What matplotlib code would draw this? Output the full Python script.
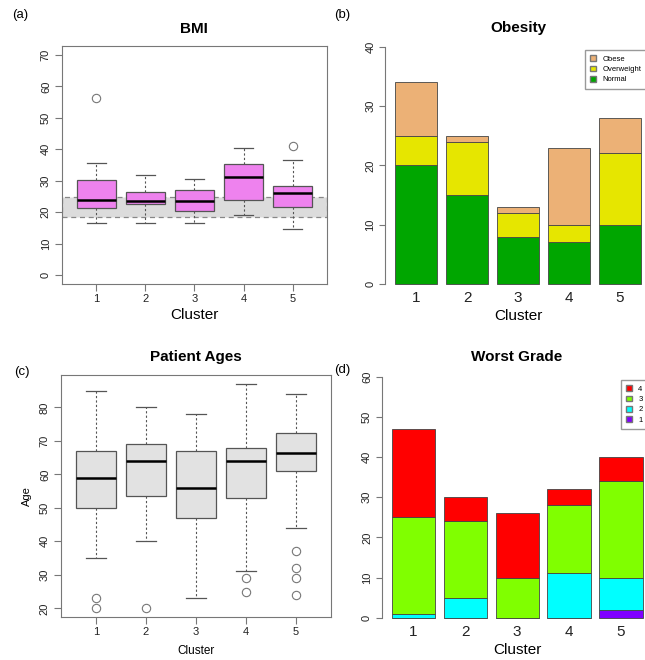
import numpy as np
import matplotlib
matplotlib.use("Agg")
import matplotlib.pyplot as plt
from matplotlib.patches import Patch

plt.rcParams['font.family'] = ['Liberation Sans', 'DejaVu Sans']

# Data
clusters = ['1', '2', '3', '4', '5']

# BMI boxplot stats
bmi_whislo = [16.6, 16.5, 16.4, 19.1, 14.6]
bmi_q1 = [21.2, 22.5, 20.3, 23.8, 21.6]
bmi_med = [23.8, 23.7, 23.5, 31.3, 26.2]
bmi_q3 = [30.2, 26.5, 27.0, 35.4, 28.3]
bmi_whishi = [35.7, 31.8, 30.5, 40.3, 36.6]
bmi_out = [[56.3], [], [], [], [41.0]]
normal_bmi = [18.5, 24.9]

# Age boxplot stats
age_whislo = [35, 40, 23, 31, 44]
age_q1 = [50, 53.5, 47, 53, 61]
age_med = [59, 64, 56, 64, 66.5]
age_q3 = [67, 69, 67, 68, 72.5]
age_whishi = [85, 80, 78, 87, 84]
age_out = [[23, 20], [20], [], [29, 25], [37, 32, 29, 24]]

# Obesity counts
normal = [20, 15, 8, 7, 10]
overweight = [5, 9, 4, 3, 12]
obese = [9, 1, 1, 13, 6]

# Worst grade counts
grade1 = [0, 0, 0, 0, 2]
grade2 = [1, 5, 0, 11, 8]
grade3 = [24, 19, 10, 17, 24]
grade4 = [22, 6, 16, 4, 6]

W, H = 645, 660
fig = plt.figure(figsize=(W / 100, H / 100), dpi=100)

AXCOL = '#777777'
EDGE = '#555555'


# Helper: axes from pixel box
def ax_px(left, top, right, bottom):
    return fig.add_axes([left / W, 1 - bottom / H, (right - left) / W, (bottom - top) / H])


def ftext(x, y, s, **kw):
    fig.text(x / W, 1 - y / H, s, ha='center', va='center', **kw)


def make_stats(lo, q1, med, q3, hi, out):
    stats = []
    for i in range(len(med)):
        stats.append({'whislo': lo[i], 'q1': q1[i], 'med': med[i], 'q3': q3[i],
                      'whishi': hi[i], 'fliers': out[i], 'label': clusters[i]})
    return stats


def style_box_axes(ax, fs):
    for sp in ax.spines.values():
        sp.set_color(AXCOL)
        sp.set_linewidth(0.8)
    ax.tick_params(colors=AXCOL, labelcolor='#222222', length=5, width=0.8,
                   labelsize=fs)
    ax.tick_params(axis='y', labelrotation=90, pad=3)
    ax.tick_params(axis='x', pad=2)
    for lab in ax.get_yticklabels():
        lab.set_va('center')


def draw_box(ax, stats, face):
    ax.bxp(stats, positions=range(1, 6), widths=0.8, capwidths=0.4, patch_artist=True,
           boxprops=dict(facecolor=face, edgecolor=EDGE, linewidth=0.9),
           medianprops=dict(color='black', linewidth=1.8),
           whiskerprops=dict(color=EDGE, linewidth=0.8, linestyle=(0, (2, 2))),
           capprops=dict(color=EDGE, linewidth=0.9),
           flierprops=dict(marker='o', markersize=6, markerfacecolor='none',
                           markeredgecolor='#777777', markeredgewidth=0.8),
           zorder=3)


def style_bar_axes(ax, top):
    for k in ['top', 'right', 'bottom']:
        ax.spines[k].set_visible(False)
    ax.spines['left'].set_bounds(0, top)
    ax.spines['left'].set_color(AXCOL)
    ax.spines['left'].set_linewidth(0.8)
    ax.set_yticks(np.arange(0, top + 1, 10))
    ax.tick_params(axis='y', colors=AXCOL, labelcolor='#222222', length=4, width=0.8,
                   labelsize=8, labelrotation=90, pad=3)
    ax.tick_params(axis='x', length=0, labelsize=11, pad=-1.5, labelcolor='#222222')
    for lab in ax.get_yticklabels():
        lab.set_va('center')


def add_legend(handles, x, y):
    fig.legend(handles=handles, loc='upper left', bbox_to_anchor=(x / W, 1 - y / H),
               bbox_transform=fig.transFigure, borderaxespad=0, fontsize=5.5,
               fancybox=False, edgecolor='#999999', handlelength=0.8, handleheight=0.8,
               handletextpad=0.8, labelspacing=0.35, borderpad=0.7, framealpha=1)


# (a) BMI
ax1 = ax_px(62, 46.2, 327, 283.8)
ax1.axhspan(normal_bmi[0], normal_bmi[1], facecolor='#DCDCDC', edgecolor='#888888',
            linestyle=(0, (4, 3)), linewidth=0.9, zorder=1)
draw_box(ax1, make_stats(bmi_whislo, bmi_q1, bmi_med, bmi_q3, bmi_whishi, bmi_out), '#EE82EE')
ax1.set_xlim(0.3, 5.7)
ax1.set_ylim(-2.8, 72.8)
ax1.set_yticks(np.arange(0, 71, 10))
style_box_axes(ax1, 8)
ftext(20, 15, '(a)', fontsize=9.5)
ftext(194, 29, 'BMI', fontsize=11, fontweight='bold')
ftext(194, 315, 'Cluster', fontsize=11)

# (b) Obesity
xpos = 0.7 + 1.2 * np.arange(5)
ax2 = ax_px(385, 37.2, 651.2, 293.5)
ax2.bar(xpos, normal, width=1, color='#00A600', edgecolor='#444444', linewidth=0.6)
ax2.bar(xpos, overweight, width=1, bottom=normal, color='#E6E600',
        edgecolor='#444444', linewidth=0.6)
ax2.bar(xpos, obese, width=1, bottom=np.add(normal, overweight), color='#ECB176',
        edgecolor='#444444', linewidth=0.6)
ax2.set_xlim(-0.032, 6.232)
ax2.set_ylim(-1.6, 41.6)
ax2.set_xticks(xpos)
ax2.set_xticklabels(clusters)
style_bar_axes(ax2, 40)
add_legend([Patch(facecolor='#ECB176', edgecolor='#777777', label='Obese'),
            Patch(facecolor='#E6E600', edgecolor='#777777', label='Overweight'),
            Patch(facecolor='#00A600', edgecolor='#777777', label='Normal')], 585, 50)
ftext(342, 15, '(b)', fontsize=9.5)
ftext(518, 28, 'Obesity', fontsize=11, fontweight='bold')
ftext(518, 316, 'Cluster', fontsize=11)

# (c) Patient Ages
ax3 = ax_px(61, 375, 331, 617.3)
draw_box(ax3, make_stats(age_whislo, age_q1, age_med, age_q3, age_whishi, age_out), '#E2E2E2')
ax3.set_xlim(0.3, 5.7)
ax3.set_ylim(17.32, 89.68)
ax3.set_yticks(np.arange(20, 81, 10))
style_box_axes(ax3, 8)
ftext(22, 372, '(c)', fontsize=9.5)
ftext(196, 357, 'Patient Ages', fontsize=11, fontweight='bold')
ftext(196, 651, 'Cluster', fontsize=8.5)
ftext(27, 496, 'Age', fontsize=8, rotation=90)

# (d) Worst Grade
ax4 = ax_px(381.7, 367.1, 652.6, 627.3)
g_bottom = np.zeros(5)
for vals, col in [(grade1, '#8000FF'), (grade2, '#00FFFF'), (grade3, '#80FF00'), (grade4, '#FF0000')]:
    ax4.bar(xpos, vals, width=1, bottom=g_bottom, color=col, edgecolor='#444444', linewidth=0.6)
    g_bottom = g_bottom + np.array(vals)
ax4.set_xlim(-0.032, 6.232)
ax4.set_ylim(-2.4, 62.4)
ax4.set_xticks(xpos)
ax4.set_xticklabels(clusters)
style_bar_axes(ax4, 60)
add_legend([Patch(facecolor='#FF0000', edgecolor='#777777', label='4'),
            Patch(facecolor='#80FF00', edgecolor='#777777', label='3'),
            Patch(facecolor='#00FFFF', edgecolor='#777777', label='2'),
            Patch(facecolor='#8000FF', edgecolor='#777777', label='1')], 620.7, 380)
ftext(342, 370, '(d)', fontsize=9.5)
ftext(517, 357, 'Worst Grade', fontsize=11, fontweight='bold')
ftext(517, 650, 'Cluster', fontsize=11)

fig.savefig('out.png', dpi=100)
